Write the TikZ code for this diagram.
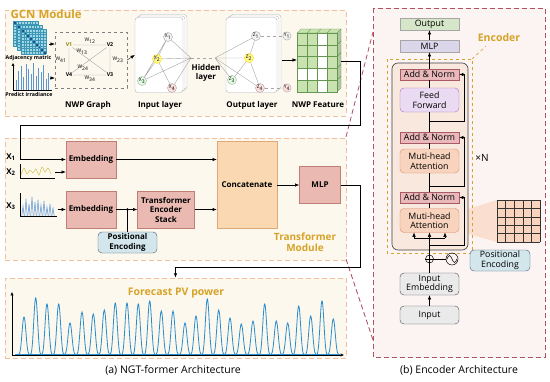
\documentclass[tikz,border=0pt]{standalone}
\usepackage{fontspec}
\setmainfont{Open Sans}
\usetikzlibrary{arrows.meta,positioning,calc}
\definecolor{gold}{RGB}{214,163,40}
\definecolor{modline}{RGB}{240,192,160}
\definecolor{modfill}{RGB}{253,248,238}
\definecolor{embfill}{RGB}{234,186,178}
\definecolor{embline}{RGB}{190,128,118}
\definecolor{catfill}{RGB}{250,216,178}
\definecolor{catline}{RGB}{222,168,120}
\definecolor{pefill}{RGB}{210,230,236}
\definecolor{peline}{RGB}{70,90,110}
\definecolor{panline}{RGB}{176,80,96}
\definecolor{panfill}{RGB}{252,243,243}
\definecolor{pvblue}{RGB}{40,140,205}
\definecolor{anfill}{RGB}{232,184,186}
\definecolor{anline}{RGB}{170,90,100}
\definecolor{fffill}{RGB}{234,218,242}
\definecolor{ffline}{RGB}{165,112,195}
\definecolor{attfill}{RGB}{248,212,190}
\definecolor{attline}{RGB}{222,140,108}
\definecolor{encfill}{RGB}{249,232,222}
\definecolor{outfill}{RGB}{214,230,200}
\definecolor{mlpfill}{RGB}{220,214,234}
\definecolor{grayfill}{RGB}{234,234,234}
\definecolor{cellgreen}{RGB}{200,226,176}
\definecolor{cellline}{RGB}{100,150,80}
\definecolor{adjcyan}{RGB}{160,216,232}
\definecolor{adjline}{RGB}{60,150,180}
\definecolor{adjdark}{RGB}{30,80,150}
\definecolor{irrblue}{RGB}{90,150,215}
\definecolor{wavey}{RGB}{215,195,95}
\definecolor{shadecol}{RGB}{250,222,208}
\tikzset{
 module/.style={draw=modline,fill=modfill,dash pattern=on 5pt off 3pt,line width=0.8pt},
 panel/.style={draw=panline,fill=panfill,dash pattern=on 5pt off 3pt,line width=0.9pt},
 zoomline/.style={draw=panline,dash pattern=on 5pt off 3pt,line width=0.8pt},
 title/.style={text=gold,font=\fontsize{10}{11}\selectfont\bfseries,align=center},
 blockbox/.style={draw=embline,fill=embfill,align=center,inner sep=1pt,
             font=\fontsize{8}{9.5}\selectfont\bfseries},
 catbox/.style={draw=catline,fill=catfill,align=center,
             font=\fontsize{8}{9.5}\selectfont\bfseries},
 pebox/.style={draw=peline,fill=pefill,rounded corners=4pt,align=center,inner sep=1pt},
 lab/.style={font=\fontsize{8}{8.5}\selectfont\bfseries},
 tiny/.style={font=\fontsize{5.3}{6}\selectfont\bfseries,inner sep=0.5pt},
 wlab/.style={font=\fontsize{5}{5}\selectfont,inner sep=0.5pt},
 gnode/.style={circle,draw=gray!70,inner sep=0pt,minimum size=9pt,
             font=\fontsize{5}{5}\selectfont},
 layerbox/.style={draw=gray!60,fill=white,rounded corners=3pt,
             minimum width=48pt,minimum height=75pt},
 encbox/.style={minimum width=59pt,align=center,inner sep=0pt,
             font=\fontsize{8.8}{9.6}\selectfont},
 arrow/.style={-{Latex[length=1.5mm,width=1.2mm]},line width=0.6pt},
 link/.style={line width=0.6pt},
 edge/.style={gray!70,line width=0.4pt}
}

\begin{document}
\begin{tikzpicture}[x=1pt,y=-1pt]
\useasboundingbox (0,0) rectangle (550,381);

% zoom lines and right panel
\draw[zoomline] (346,137) -- (373,32);
\draw[zoomline] (346,259) -- (373,340);
\draw[panel] (373,8) rectangle (545,357);

% module frames
\node[module,minimum width=341pt,minimum height=106pt] (gcn) at (175.5,63) {};
\node[module,minimum width=341pt,minimum height=122pt] (trm) at (175.5,199) {};
\node[module,minimum width=341pt,minimum height=80pt] (fcast) at (175.5,318) {};

% ---- GCN module ----
% adjacency matrix
\foreach \o in {0,4,8}{
 \begin{scope}[shift={(13+\o,21+\o)}]
  \fill[adjcyan] (0,0) rectangle (25.2,25.2);
  \foreach \k in {0,...,8} \fill[adjdark] (2.8*\k,2.8*\k) rectangle ++(2.8,2.8);
  \foreach \k in {0,...,9} \draw[adjline,line width=0.25pt] (2.8*\k,0) -- (2.8*\k,25.2) (0,2.8*\k) -- (25.2,2.8*\k);
 \end{scope}}
\node[tiny] (adjlab) at (28.5,58) {Adjacency matric};
\node[title,font=\fontsize{11.5}{12}\selectfont\bfseries,anchor=west] (gcnlab) at (7,14) {GCN Module};
% irradiance
\draw[-{Latex[length=1mm,width=1mm]},line width=0.4pt] (13,90) -- (13,63);
\draw[line width=0.4pt] (13,90) -- (52,90);
\foreach \x/\h in {16/10,18.5/19,21/24,23.5/13,26/26,28.5/21,31/16,33.5/27,36/14,38.5/22,41/18,43.5/25,46/11,48.5/17}
 \draw[irrblue,line width=1pt] (\x,90) -- (\x,90-\h);
\node[tiny] (irrlab) at (29,95) {Predict irradiance};

% NWP graph
\node[draw=gray,dashed,minimum width=72pt,minimum height=56pt] (nwpg) at (91,60) {};
\coordinate (adjout) at (49,44);
\coordinate (irrout) at (50,78);
\draw[arrow,line width=0.4pt] (adjout) -- (adjout -| nwpg.west);
\draw[arrow,line width=0.4pt] (irrout) -- (irrout -| nwpg.west);
\node[tiny,text=olive] (v1) at (69,45) {V1};
\node[tiny] (v2) at (110,45) {V2};
\node[tiny] (v4) at (69,75) {V4};
\node[tiny] (v3) at (110,75) {V3};
\draw[edge] (v1) -- (v2) -- (v3) -- (v4) -- (v1) (v1) -- (v3) (v2) -- (v4);
\node[wlab] (w12) at (90,41) {W\textsubscript{12}};
\node[wlab] (w13) at (82,52) {W\textsubscript{13}};
\node[wlab] (w41) at (61,60) {W\textsubscript{41}};
\node[wlab] (w24) at (83,68) {W\textsubscript{24}};
\node[wlab] (w34) at (90,79) {W\textsubscript{34}};
\node[wlab] (w23) at (118,60) {W\textsubscript{23}};
\node[lab] (nwplab) at (88,105) {NWP Graph};

% input layer
\node[layerbox] (inlb) at (163,52) {};
\node[layerbox] (inlm) at (161,53.5) {};
\node[layerbox] (inl) at (159,55) {};
\draw[arrow,line width=0.4pt] (nwpg.east) -- (inl.west);
\coordinate (hida) at (191,58);
\node[gnode,fill=gray!10] (x1) at (168,37) {X\textsubscript{1}};
\node[gnode,fill=yellow!45,draw=yellow!80!orange] (x2) at (157,59) {X\textsubscript{2}};
\node[gnode,fill=green!12] (x3) at (142,81) {X\textsubscript{3}};
\node[gnode,fill=red!12] (x4) at (172,88) {X\textsubscript{4}};
\draw[edge] (x1) -- (x2) -- (x3) -- (x1) (x2) -- (x4)
 (x1) -- (hida) (x2) -- (hida) (x3) -- (hida) (x4) -- (hida);
\node[lab] (inlab) at (160,105) {Input layer};

% hidden layer
\coordinate (hidb) at (215,58);
\draw[edge,dashed] (hida) -- (hidb);
\node[lab,align=center] (hidlab) at (206,73) {Hidden\\layer};

% output layer
\node[layerbox,minimum width=51pt] (outlb) at (255.5,52) {};
\node[layerbox,minimum width=51pt] (outlm) at (253.5,53.5) {};
\node[layerbox,minimum width=51pt] (outl) at (251.5,55) {};
\node[gnode,fill=gray!10] (z1) at (256,36) {Z\textsubscript{1}};
\node[gnode,fill=yellow!45,draw=yellow!80!orange] (z2) at (249,58) {Z\textsubscript{2}};
\node[gnode,fill=green!12] (z3) at (232,80) {Z\textsubscript{3}};
\node[gnode,fill=red!12] (z4) at (260,88) {Z\textsubscript{4}};
\draw[edge] (hidb) -- (z1) (hidb) -- (z2) (hidb) -- (z3) (hidb) -- (z4)
 (z1) -- (z2) -- (z3) (z2) -- (z4);
\node[gnode,fill=gray!10,minimum size=8pt] (y1) at (287,36) {Y\textsubscript{1}};
\node[gnode,fill=red!12,minimum size=8pt] (y4) at (287,88) {Y\textsubscript{4}};
\draw[edge,dashed] (z1) -- (y1) (z4) -- (y4);
\node[lab] (outlab) at (252,105) {Output layer};

% NWP feature
\foreach \c in {0,...,3}{
 \filldraw[fill=cellgreen,draw=cellline,line width=0.3pt] (297+10*\c,33) -- (301+10*\c,29) -- (311+10*\c,29) -- (307+10*\c,33) -- cycle;}
\foreach \r in {0,...,4}{
 \filldraw[fill=cellgreen!85!black!90,draw=cellline,line width=0.3pt] (337,33+11.8*\r) -- (341,29+11.8*\r) -- (341,40.8+11.8*\r) -- (337,44.8+11.8*\r) -- cycle;}
\foreach \c in {0,...,3}{
 \foreach \r in {0,...,4}{
  \filldraw[fill=cellgreen,draw=cellline,line width=0.3pt] (297+10*\c,33+11.8*\r) rectangle ++(10,11.8);}}
\foreach \c/\r in {2/0,2/1,2/2,2/3,2/4,0/3,1/3}
 \filldraw[fill=white,draw=cellline,line width=0.3pt] (297+10*\c,33+11.8*\r) rectangle ++(10,11.8);
\node[inner sep=0pt,minimum width=44pt,minimum height=63pt] (feat) at (319,61) {};
\coordinate (outr) at (282,60);
\draw[arrow,line width=0.4pt] (outr) -- (outr -| feat.west);
\node[lab] (featlab) at (318,105) {NWP Feature};

% ---- Transformer module ----
\node[lab] (xa) at (11,157) {X\textsubscript{1}};
\node[lab] (xb) at (11,172) {X\textsubscript{2}};
\node[lab] (xc) at (11,206) {X\textsubscript{3}};
% small input curves
\draw[line width=0.3pt] (20,178) -- (20,164) (20,178) -- (55,178);
\draw[wavey,line width=0.6pt] plot[smooth] coordinates {(21,175) (24,168) (27,174) (30,170) (33,173) (36,169) (39,175) (42,167) (45,172) (48,168) (51,174)};
\draw[line width=0.3pt] (20,216) -- (20,193) (20,216) -- (57,216);
\foreach \x/\h in {23/10,26/17,29/12,32/19,35/14,38/16,41/11,44/15,47/9,50/12,53/8}
 \draw[irrblue,line width=0.5pt] (\x-1.2,216) -- (\x,216-\h) -- (\x+1.2,216);

\node[blockbox,minimum width=50pt,minimum height=37pt] (emba) at (91,159.5) {Embedding};
\node[blockbox,minimum width=50pt,minimum height=37pt] (embb) at (91,209.5) {Embedding};
\node[blockbox,minimum width=57pt,minimum height=37pt] (tes) at (166,209.5) {Transformer\\Encoder\\Stack};
\node[pebox,minimum width=59pt,minimum height=21pt,font=\fontsize{8}{9.5}\selectfont\bfseries] (pe) at (127.5,242.5) {Positional\\Encoding};
\node[catbox,minimum width=60pt,minimum height=87pt] (cat) at (247,184.5) {Concatenate};
\node[blockbox,minimum width=41pt,minimum height=37pt] (mlp) at (320,185) {MLP};
\node[title] (trmlab) at (305,242) {Transformer\\Module};

\draw[link] (feat.east) -| (360,125) -| (20,159.5);
\draw[arrow] (20,159.5) -- (emba.west);
\coordinate (xtwo) at (55,172);
\draw[arrow] (xtwo) -- (xtwo -| emba.west);
\coordinate (xthree) at (58,209.5);
\draw[arrow] (xthree) -- (embb.west);
\draw[arrow] (embb.east) -- (tes.west);
\draw[link] (pe.north) -- (pe.north |- embb.east);
\fill (pe.north |- embb.east) circle (1.4);
\draw[arrow] (emba.east) -- (emba.east -| cat.west);
\draw[arrow] (tes.east) -- (tes.east -| cat.west);
\draw[arrow] (cat.east |- mlp.west) -- (mlp.west);
\draw[arrow] (mlp.east) -| (360,267) -| (fcast.north);

% ---- Forecast ----
\draw[-{Latex[length=1.2mm,width=1.1mm]},line width=0.4pt] (12,355) -- (12,292);
\draw[-{Latex[length=1.2mm,width=1.1mm]},line width=0.4pt] (12,355) -- (344,355);
\draw[pvblue,line width=0.8pt] (15,354) -- (340,354);
\foreach \x/\h in {24/37,35.7/56,47/50,58.7/50,70/31,82/42,93.3/40,104.3/44,115.3/51,127/51,138.3/50,149.7/53,161.3/43,173/43,185/31,196/38,207.3/55,218.7/44,230/36,241.3/30,253/33,264.7/50,276.3/33,287.7/31,298.7/48,310.7/38,322/53,333.3/35}
 \draw[pvblue,line width=0.8pt] (\x-5,354) .. controls (\x-2.6,354) and (\x-1.6,354-\h) .. (\x,354-\h) .. controls (\x+1.6,354-\h) and (\x+2.6,354) .. (\x+5,354);
\node[title,font=\fontsize{10.5}{11}\selectfont\bfseries] (fclab) at (176,293) {Forecast PV power};
\node[font=\fontsize{10.5}{11}\selectfont] (capa) at (173,370) {(a) NGT-former Architecture};

% ---- Encoder architecture ----
\fill[shadecol] (462,211) -- (497,200) -- (497,242) -- (462,232) -- cycle;
\draw[gold,dashed,line width=0.6pt] (387,59) rectangle (472,253);
\draw[gold,dashed,line width=0.6pt] (472,59) -- (486,46);
\node[title,font=\fontsize{10.5}{11}\selectfont\bfseries] (enclab) at (499,38) {Encoder};
\draw[black!75,fill=encfill,rounded corners=6pt,line width=0.6pt] (392,63) rectangle (468,250);
\fill[attfill] (497,200) rectangle (540,242);
\foreach \k in {0,...,5}
 \draw[black!80,line width=0.5pt] (497+8.6*\k,200) -- (497+8.6*\k,242) (497,200+8.4*\k) -- (540,200+8.4*\k);

\node[encbox,draw=gray!70,fill=outfill,minimum height=12pt] (outp) at (429.5,24) {Output};
\node[encbox,draw=gray!70,fill=mlpfill,minimum height=12pt] (mlpb) at (429.5,46) {MLP};
\node[encbox,draw=anline,fill=anfill,minimum height=11.5pt] (an1) at (429.5,74.5) {Add \& Norm};
\node[encbox,draw=ffline,fill=fffill,rounded corners=4pt,minimum height=24pt] (ff) at (429.5,100) {Feed\\Forward};
\node[encbox,draw=anline,fill=anfill,minimum height=11.5pt] (an2) at (429.5,137.5) {Add \& Norm};
\node[encbox,draw=attline,fill=attfill,rounded corners=4pt,minimum height=24pt] (mha1) at (429.5,161) {Muti-head\\Attention};
\node[encbox,draw=anline,fill=anfill,minimum height=11.5pt] (an3) at (429.5,197.5) {Add \& Norm};
\node[encbox,draw=attline,fill=attfill,rounded corners=4pt,minimum height=24pt] (mha2) at (429.5,220.5) {Muti-head\\Attention};
\node[font=\fontsize{10}{10}\selectfont] (times) at (482,158) {×N};

\node[circle,draw,line width=0.5pt,minimum size=8pt,inner sep=0pt] (oplus) at (429.5,259) {};
\draw[line width=0.5pt] (oplus.north) -- (oplus.south) (oplus.west) -- (oplus.east);
\node[circle,draw,line width=0.5pt,minimum size=12pt,inner sep=0pt] (sine) at (452,259) {};
\draw[line width=0.5pt] (447,259) sin (449.5,255.5) cos (452,259) sin (454.5,262.5) cos (457,259);
\node[pebox,encbox,minimum width=60pt,minimum height=21pt] (pe2) at (500,260.5) {Positional\\Encoding};
\node[encbox,draw=black!70,fill=grayfill,rounded corners=4pt,minimum height=22pt] (inemb) at (429.5,284) {Input\\Embedding};
\node[encbox,draw=black!70,fill=grayfill,rounded corners=4pt,minimum height=18pt] (inp) at (429.5,315) {Input};

\draw[arrow,line width=0.5pt] (inp.north) -- (inemb.south);
\draw[link,line width=0.5pt] (inemb.north) -- (oplus.south);
\draw[link,line width=0.5pt] (oplus.east) -- (sine.west);
\draw[link,line width=0.5pt] (oplus.north) -- (429.5,238);
\draw[link,line width=0.5pt] (414,238) -- (445,238);
\foreach \x in {414,429.5,445}
 \draw[arrow,line width=0.5pt] (\x,238) -- (\x,232.5);
\draw[arrow,line width=0.5pt] (429.5,245) -- ++(34.5,0) |- (an3.east);
\draw[link,line width=0.5pt] (mha2.north) -- (an3.south);
\draw[link,line width=0.5pt] (an3.north) -- (mha1.south);
\draw[arrow,line width=0.5pt] (429.5,186) -- ++(34.5,0) |- (an2.east);
\draw[link,line width=0.5pt] (mha1.north) -- (an2.south);
\draw[link,line width=0.5pt] (an2.north) -- (ff.south);
\draw[arrow,line width=0.5pt] (429.5,121) -- ++(34.5,0) |- (an1.east);
\draw[link,line width=0.5pt] (ff.north) -- (an1.south);
\draw[arrow,line width=0.5pt] (an1.north) -- (mlpb.south);
\draw[arrow,line width=0.5pt] (mlpb.north) -- (outp.south);
\node[font=\fontsize{10.5}{11}\selectfont] (capb) at (459,370) {(b) Encoder Architecture};
\end{tikzpicture}
\end{document}
